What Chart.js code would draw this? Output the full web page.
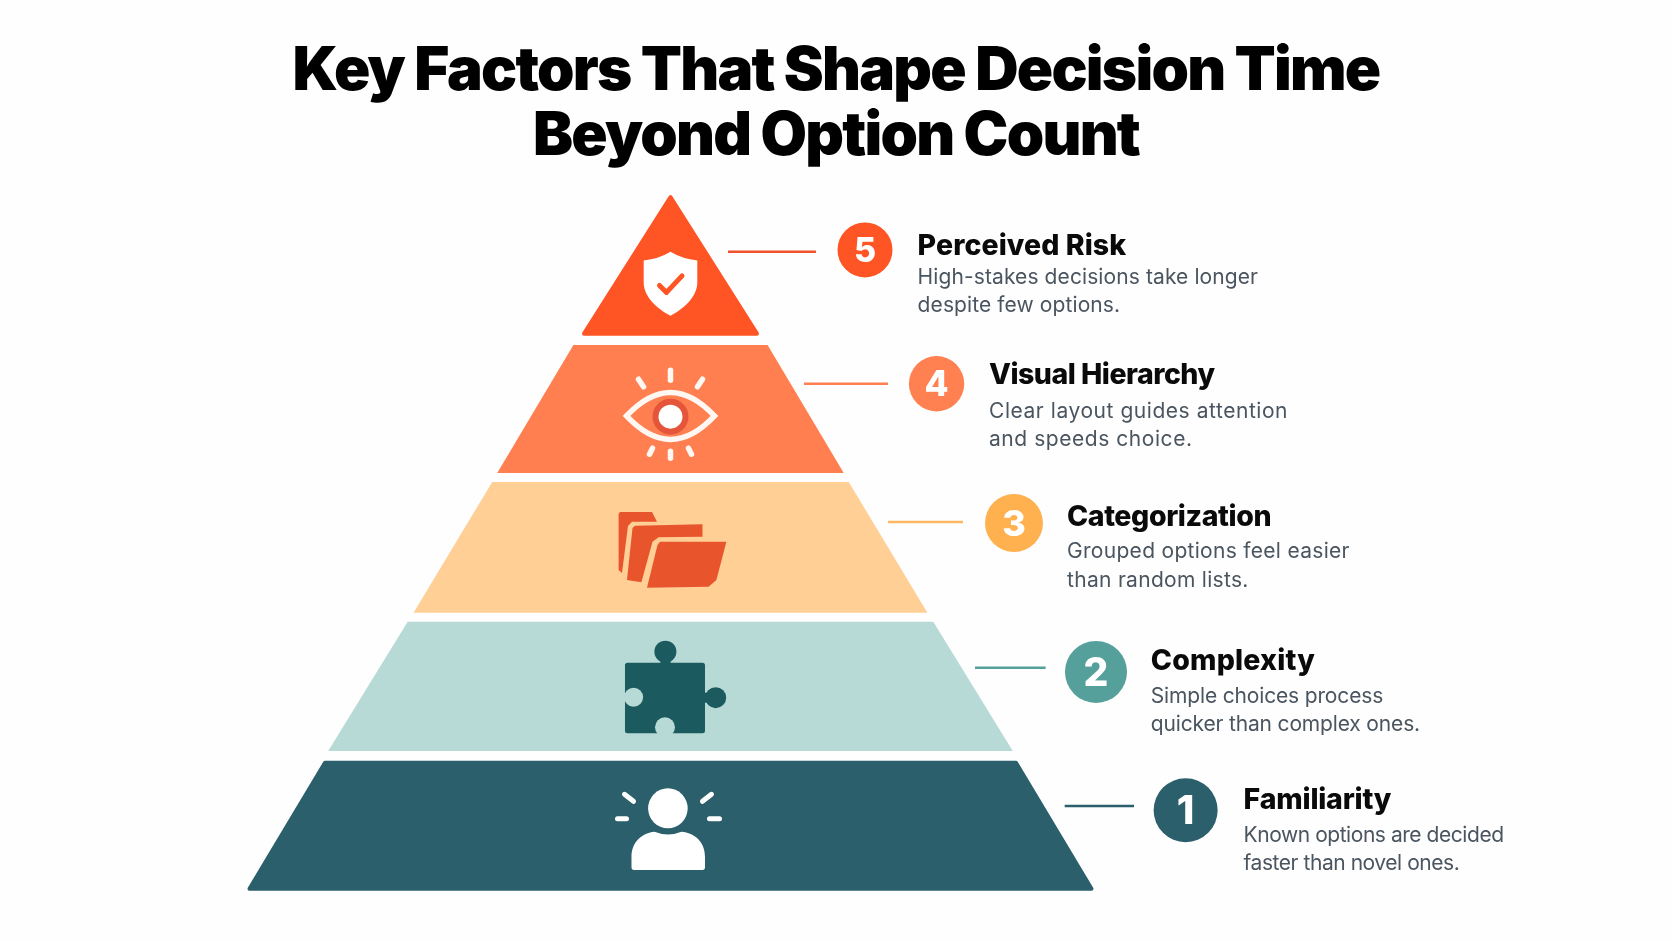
<!DOCTYPE html>
<html>
<head>
<meta charset="utf-8">
<title>Key Factors That Shape Decision Time</title>
<script src="https://cdn.jsdelivr.net/npm/chart.js@4"></script>
<style>
  html, body { margin: 0; padding: 0; background: #fefefe; }
  canvas { display: block; }
</style>
</head>
<body>
<canvas id="chartPyramid" width="1672" height="941"></canvas>
<script>
// level 1 (base of the pyramid) up to level 5 (tip)
const factors = ['Familiarity', 'Complexity', 'Categorization', 'Visual Hierarchy', 'Perceived Risk'];
const notes = [
  ['Known options are decided', 'faster than novel ones.'],
  ['Simple choices process', 'quicker than complex ones.'],
  ['Grouped options feel easier', 'than random lists.'],
  ['Clear layout guides attention', 'and speeds choice.'],
  ['High-stakes decisions take longer', 'despite few options.']
];
const ranks = ['1', '2', '3', '4', '5'];

// band shape: level and half width at the lower and upper edge
const lowerLevel = [0.014, 1.007, 2.004, 3.012, 4.016];
const upperLevel = [0.923, 1.939, 2.947, 3.934, 5.0];
const lowerHalf = [5.03, 4.09, 3.07, 2.07, 1.033];
const upperHalf = [4.128, 3.14, 2.13, 1.16, 0];

// badges and the short leader lines next to them
const badgeX = [6.155, 5.084, 4.104, 3.179, 2.324];
const badgeY = [0.58, 1.577, 2.651, 3.655, 4.62];
const leaderFrom = [4.71, 3.638, 2.599, 1.595, 0.687];
const leaderTo = [5.538, 4.482, 3.495, 2.599, 1.738];
const leaderY = [0.611, 1.608, 2.659, 3.655, 4.607];
const iconLevel = [0.5, 1.5, 2.5, 3.5, 4.4];

// colours and text layout
const bandColors = ['#2a5f6b', '#b8dad6', '#ffcf96', '#ff7f50', '#ff5424'];
const badgeColors = ['#2a5f6b', '#55a09b', '#ffb04f', '#ff8050', '#ff5424'];
const leaderColors = ['#2a5f6b', '#55a09b', '#ffb861', '#ff7f50', '#f0532d'];
const badgeSizes = [32, 31, 29, 27.7, 27.5];
const textX = [1243.6, 1150.8, 1067, 989, 917.6];
const nameY = [809.3, 670.3, 525.5, 384, 254.5];
const noteY = [[841.7, 870], [702.7, 731], [558.3, 587.3], [417.7, 445.7], [284.3, 311.7]];
const nameSpacing = [-0.2, 0.2, -0.4, -0.5, 0.08];
const noteSpacing = [-0.45, -0.16, 0.3, 0.55, 0.1];

function segment(ctx, x1, y1, x2, y2) {
  ctx.beginPath();
  ctx.moveTo(x1, y1);
  ctx.lineTo(x2, y2);
  ctx.stroke();
}

function polygon(ctx, pts) {
  ctx.beginPath();
  pts.forEach((p, i) => i ? ctx.lineTo(p[0], p[1]) : ctx.moveTo(p[0], p[1]));
  ctx.closePath();
  ctx.fill();
}

function disc(ctx, x, y, r, color) {
  ctx.fillStyle = color;
  ctx.beginPath();
  ctx.arc(x, y, r, 0, Math.PI * 2);
  ctx.fill();
}

function drawPerson(ctx) {
  ctx.strokeStyle = '#ffffff';
  ctx.fillStyle = '#ffffff';
  ctx.lineWidth = 5;
  ctx.lineCap = 'round';
  segment(ctx, -46, -27, -37, -20);
  segment(ctx, 41, -27, 32, -20);
  segment(ctx, -53, -2.6, -44, -2.6);
  segment(ctx, 39, -2.6, 49, -2.6);
  ctx.beginPath();
  ctx.ellipse(-2.6, -13, 19.8, 20, 0, 0, Math.PI * 2);
  ctx.fill();
  ctx.beginPath();
  ctx.moveTo(-39, 46);
  ctx.lineTo(-39, 36);
  ctx.bezierCurveTo(-39, 20, -28, 12, -16, 10.5);
  ctx.quadraticCurveTo(-2.6, 16, 11, 10.5);
  ctx.bezierCurveTo(24, 12, 34.5, 20, 34.5, 36);
  ctx.lineTo(34.5, 46);
  ctx.quadraticCurveTo(34.5, 48.6, 32, 48.6);
  ctx.lineTo(-36.5, 48.6);
  ctx.quadraticCurveTo(-39, 48.6, -39, 46);
  ctx.fill();
}

function drawPuzzle(ctx) {
  const dark = '#1b5a5e', hole = bandColors[1];
  ctx.fillStyle = dark;
  ctx.beginPath();
  ctx.roundRect(-45.5, -20, 80, 70.6, 2.5);
  ctx.fill();
  ctx.fillRect(-10, -26, 10, 8);
  ctx.fillRect(32, 10, 8, 10);
  disc(ctx, -5.1, -31, 11, dark);
  disc(ctx, 45.2, 15, 10.5, dark);
  disc(ctx, -36.9, 14.6, 9.5, hole);
  disc(ctx, -5.5, 44.6, 10, hole);
  ctx.fillStyle = hole;
  ctx.fillRect(-47, 10.5, 9, 8);
  ctx.fillRect(-9.5, 46, 8, 6);
}

function drawFolders(ctx) {
  ctx.fillStyle = '#e8552d';
  polygon(ctx, [[-51.9, -30], [-50.5, -32], [-18.5, -32], [-13.5, -22.3], [-38.5, -22.3], [-42.5, -18], [-48.5, 29], [-51.9, 26]]);
  polygon(ctx, [[-38, -16], [-35.5, -18.3], [32, -19.7], [32, -7.3], [-11.9, -6.7], [-18, -2.3], [-29.1, 38.3], [-43.5, 36]]);
  polygon(ctx, [[-13, 1], [-10.5, -2.3], [55.9, -2.3], [45.9, 36], [38.1, 42.7], [-23.5, 43.7]]);
}

function drawEye(ctx) {
  ctx.strokeStyle = '#fff8f2';
  ctx.lineWidth = 5.5;
  ctx.lineCap = 'round';
  ctx.lineJoin = 'miter';
  disc(ctx, 0, 11.4, 18, '#e5553a');
  disc(ctx, 0, 11.4, 12, '#ffffff');
  ctx.beginPath();
  ctx.moveTo(-44, 10.75);
  ctx.quadraticCurveTo(0, -36.25, 44, 10.75);
  ctx.quadraticCurveTo(0, 57.75, -44, 10.75);
  ctx.closePath();
  ctx.stroke();
  segment(ctx, 0, -35, 0, -25);
  segment(ctx, -32, -26, -27, -18.5);
  segment(ctx, 32, -26, 27, -18.5);
  segment(ctx, 0, 46, 0, 53);
  segment(ctx, -18, 43, -21, 49);
  segment(ctx, 18, 43, 21, 49);
}

function drawShield(ctx) {
  ctx.fillStyle = '#ffffff';
  ctx.beginPath();
  ctx.moveTo(0, -28.7);
  ctx.quadraticCurveTo(-12, -21.5, -26.8, -20);
  ctx.lineTo(-26.8, 2);
  ctx.bezierCurveTo(-26.8, 17, -12, 29, 0, 35.3);
  ctx.bezierCurveTo(12, 29, 26.8, 17, 26.8, 2);
  ctx.lineTo(26.8, -20);
  ctx.quadraticCurveTo(12, -21.5, 0, -28.7);
  ctx.fill();
  ctx.strokeStyle = bandColors[4];
  ctx.lineWidth = 5;
  ctx.lineCap = 'round';
  ctx.lineJoin = 'round';
  ctx.beginPath();
  ctx.moveTo(-11, 5);
  ctx.lineTo(-4, 12);
  ctx.lineTo(11.5, -4.5);
  ctx.stroke();
}

const iconDrawers = [drawPerson, drawPuzzle, drawFolders, drawEye, drawShield];

const pyramidText = {
  id: 'pyramidText',
  // tighter tracking for the title box, which is laid out before the datasets
  beforeDraw(chart) {
    chart.ctx.letterSpacing = '-1.75px';
  },
  beforeDatasetsDraw(chart) {
    chart.ctx.letterSpacing = '0px';
  },
  afterDatasetsDraw(chart) {
    const { ctx, scales } = chart;
    const badges = chart.getDatasetMeta(chart.data.datasets.length - 1).data;

    ctx.save();
    iconDrawers.forEach((draw, i) => {
      ctx.save();
      ctx.translate(scales.x.getPixelForValue(0), scales.y.getPixelForValue(iconLevel[i]));
      draw(ctx);
      ctx.restore();
    });

    ctx.textAlign = 'center';
    ctx.textBaseline = 'middle';
    ctx.fillStyle = '#ffffff';
    ranks.forEach((rank, i) => {
      ctx.font = '800 ' + Math.round(badgeSizes[i] * 1.25) + 'px Inter';
      ctx.fillText(rank, badges[i].x, badges[i].y + 2);
    });

    ctx.textAlign = 'left';
    ctx.textBaseline = 'alphabetic';
    factors.forEach((name, i) => {
      ctx.font = '800 28.5px Inter';
      ctx.letterSpacing = nameSpacing[i] + 'px';
      ctx.fillStyle = '#0a0a0a';
      ctx.fillText(name, textX[i], nameY[i]);
      ctx.font = '400 21px Inter';
      ctx.letterSpacing = noteSpacing[i] + 'px';
      ctx.fillStyle = '#4a5560';
      notes[i].forEach((line, j) => ctx.fillText(line, textX[i], noteY[i][j]));
    });
    ctx.restore();
  }
};

const datasets = [];

// leader lines
leaderFrom.forEach((from, i) => {
  datasets.push({
    data: [{ x: from, y: leaderY[i] }, { x: leaderTo[i], y: leaderY[i] }],
    showLine: true,
    borderColor: leaderColors[i],
    borderWidth: 2.5,
    pointRadius: 0
  });
});

// pyramid bands, closed polygons filled by the library
factors.forEach((name, i) => {
  datasets.push({
    label: name,
    data: [
      { x: -lowerHalf[i], y: lowerLevel[i] },
      { x: lowerHalf[i], y: lowerLevel[i] },
      { x: upperHalf[i], y: upperLevel[i] },
      { x: -upperHalf[i], y: upperLevel[i] },
      { x: -lowerHalf[i], y: lowerLevel[i] }
    ],
    showLine: true,
    fill: 'shape',
    backgroundColor: bandColors[i],
    borderColor: bandColors[i],
    borderWidth: (i === 0 || i === 4) ? 4 : 0,
    borderJoinStyle: 'round',
    borderCapStyle: 'round',
    pointRadius: 0
  });
});

// numbered badges, kept last so the text plugin can find them
datasets.push({
  data: badgeX.map((x, i) => ({ x: x, y: badgeY[i] })),
  showLine: false,
  pointRadius: badgeSizes,
  pointBackgroundColor: badgeColors,
  pointBorderWidth: 0
});

new Chart(document.getElementById('chartPyramid'), {
  type: 'scatter',
  data: { datasets: datasets },
  plugins: [pyramidText],
  options: {
    responsive: false,
    animation: false,
    events: [],
    layout: { padding: 0, autoPadding: false },
    scales: {
      x: { display: false, min: -8.011, max: 11.966 },
      y: { display: false, min: -0.3627, max: 5.196 }
    },
    plugins: {
      legend: { display: false },
      tooltip: { enabled: false },
      title: {
        display: true,
        text: ['Key Factors That Shape Decision Time', 'Beyond Option Count'],
        color: '#000000',
        font: { family: 'Inter', size: 60, weight: '900', lineHeight: 65 / 60 },
        padding: { top: 39, bottom: 1 }
      }
    }
  }
});
</script>
</body>
</html>
